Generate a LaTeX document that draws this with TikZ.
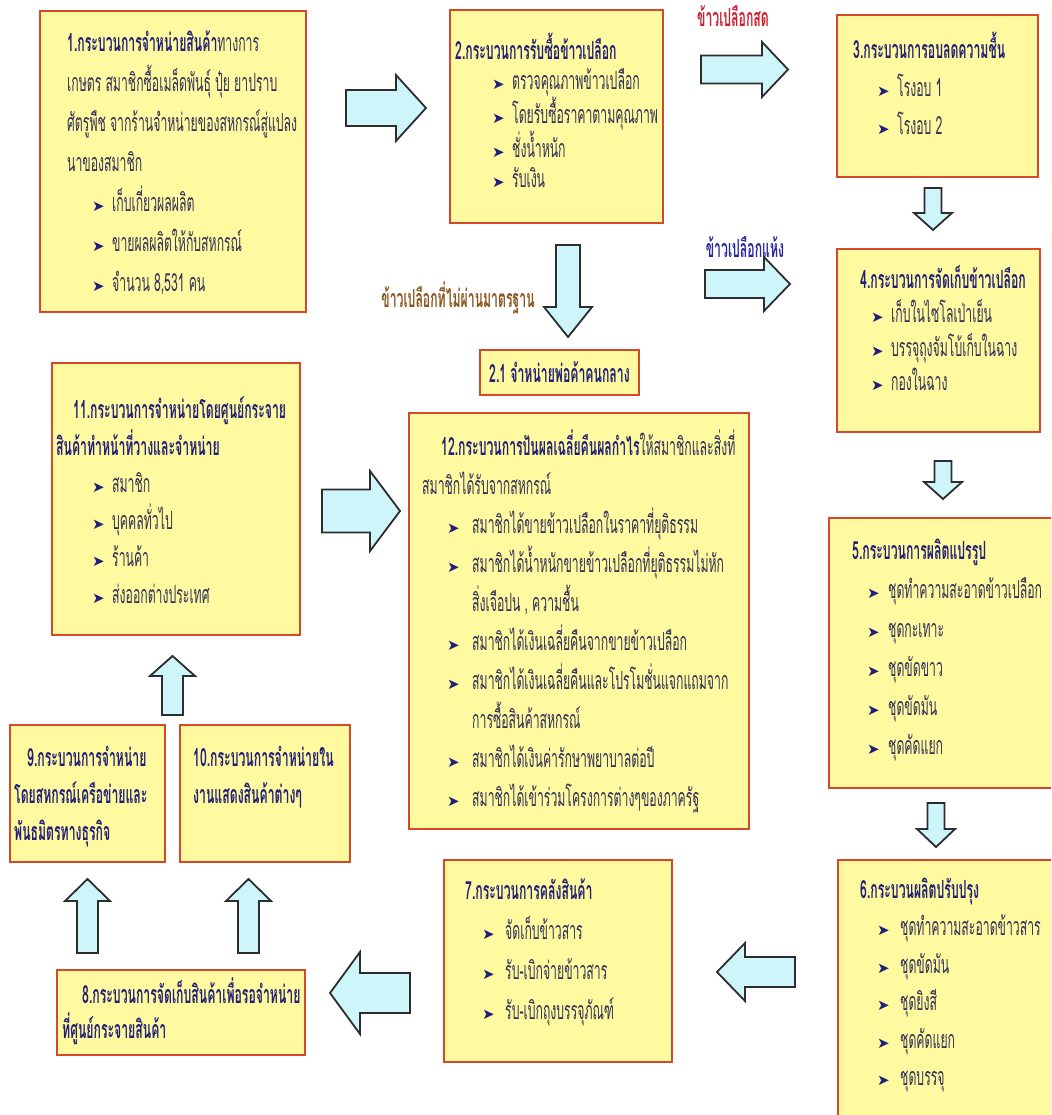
\documentclass[tikz,border=0pt]{standalone}
\usepackage{fontspec}
\newfontfamily\thai[Script=Thai,FakeStretch=0.49]{Loma}
\newfontfamily\dejavu{DejaVu Sans}
\usetikzlibrary{fit}
\definecolor{boxfill}{RGB}{255,249,160}
\definecolor{boxline}{RGB}{214,72,42}
\definecolor{navy}{RGB}{32,32,120}
\definecolor{bodytxt}{RGB}{50,50,88}
\definecolor{arrfill}{RGB}{206,245,250}
\definecolor{arrline}{RGB}{45,45,45}
\definecolor{lblred}{RGB}{205,30,45}
\definecolor{lblblue}{RGB}{40,40,160}
\definecolor{lblbrown}{RGB}{140,85,30}
\tikzset{
  procbox/.style={draw=boxline, line width=2.4pt, fill=boxfill, inner sep=0pt},
  boxtext/.style={anchor=north west, inner sep=0pt, align=left, text=bodytxt,
    font={\thai\fontsize{25}{#1}\selectfont}},
  lbl/.style={inner sep=0pt, font={\thai\bfseries\fontsize{25}{25}\selectfont}},
  barrow/.style={draw=arrline, line width=1.8pt, fill=arrfill, line join=miter},
}
\newcommand\st{\rule{0pt}{28pt}}
\newcommand\T[1]{{\bfseries\color{navy}#1}}
\newcommand\bul[2]{\hspace*{#1pt}\makebox[#2pt][l]{\dejavu\fontsize{15}{15}\selectfont\color{navy}➤}}
% block arrow: cx, cy, angle, length, shaft width, head width, head length
\newcommand\barr[7]{\draw[barrow,shift={(#1,#2)},rotate=#3]
  (-#4/2,-#5/2) -- ({#4/2-#7},-#5/2) -- ({#4/2-#7},-#6/2) -- (#4/2,0)
  -- ({#4/2-#7},#6/2) -- ({#4/2-#7},#5/2) -- (-#4/2,#5/2) -- cycle;}
\begin{document}
\begin{tikzpicture}[x=1pt,y=-1pt]
\useasboundingbox (0,0) rectangle (1051,1115);
\clip (0,0) rectangle (1051,1115);
\fill[white] (0,0) rectangle (1051,1115);

% boxes
\node[procbox, fit={(40,11) (306,312)}] (b1) {};
\node[procbox, fit={(450,10) (663,223)}] (b2) {};
\node[procbox, fit={(837,15) (1038,177)}] (b3) {};
\node[procbox, fit={(837,249) (1040,432)}] (b4) {};
\node[procbox, fit={(480,350) (639,395)}] (b21) {};
\node[procbox, fit={(52,363) (300,635)}] (b11) {};
\node[procbox, fit={(409,413) (749,829)}] (b12) {};
\node[procbox, fit={(829,518) (1070,788)}] (b5) {};
\node[procbox, fit={(838,860) (1070,1140)}] (b6) {};
\node[procbox, fit={(444,860) (672,1062)}] (b7) {};
\node[procbox, fit={(57,970) (305,1055)}] (b8) {};
\node[procbox, fit={(10,725) (165,862)}] (b9) {};
\node[procbox, fit={(180,725) (350,862)}] (b10) {};

% texts
\node[boxtext=40] (t1) at (67,23) {\st\T{1.กระบวนการจำหน่ายสินค้า}ทางการ\\
เกษตร สมาชิกซื้อเมล็ดพันธุ์ ปุ๋ย ยาปราบ\\
ศัตรูพืช จากร้านจำหน่ายของสหกรณ์สู่แปลง\\
นาของสมาชิก\\
\bul{25}{20}เก็บเกี่ยวผลผลิต\\
\bul{25}{20}ขายผลผลิตให้กับสหกรณ์\\
\bul{25}{20}จำนวน 8,531 คน};

\node[boxtext=30] (t2) at (455,31) {\st\T{2.กระบวนการรับซื้อข้าวเปลือก}\\
\bul{37}{20}ตรวจคุณภาพข้าวเปลือก\\
\bul{37}{20}โดยรับซื้อราคาตามคุณภาพ\\
\bul{37}{20}ชั่งน้ำหนัก\\
\bul{37}{20}รับเงิน};

\node[boxtext=38] (t3) at (853,30) {\st\T{3.กระบวนการอบลดความชื้น}\\
\bul{24}{20}โรงอบ 1\\
\bul{24}{20}โรงอบ 2};

\node[boxtext=34] (t4) at (860,260) {\st\T{4.กระบวนการจัดเก็บข้าวเปลือก}\\
\bul{11}{20}เก็บในไซโลเป่าเย็น\\
\bul{11}{20}บรรจุถุงจัมโบ้เก็บในฉาง\\
\bul{11}{20}กองในฉาง};

\node[lbl, text=navy] (t21) at (b21.center) {2.1 จำหน่ายพ่อค้าคนกลาง};

\node[boxtext=37] (t11) at (56,390) {\st\T{\hspace*{17pt}11.กระบวนการจำหน่ายโดยศูนย์กระจาย}\\
\T{สินค้าทำหน้าที่วางและจำหน่าย}\\
\bul{36}{20}สมาชิก\\
\bul{36}{20}บุคคลทั่วไป\\
\bul{36}{20}ร้านค้า\\
\bul{36}{20}ส่งออกต่างประเทศ};

\node[boxtext=39] (t12) at (422,427) {\st\hspace*{19pt}\T{12.กระบวนการปันผลเฉลี่ยคืนผลกำไร}ให้สมาชิกและสิ่งที่\\
สมาชิกได้รับจากสหกรณ์\\
\bul{25}{25}สมาชิกได้ขายข้าวเปลือกในราคาที่ยุติธรรม\\
\bul{25}{25}สมาชิกได้น้ำหนักขายข้าวเปลือกที่ยุติธรรมไม่หัก\\
\hspace*{50pt}สิ่งเจือปน , ความชื้น\\
\bul{25}{25}สมาชิกได้เงินเฉลี่ยคืนจากขายข้าวเปลือก\\
\bul{25}{25}สมาชิกได้เงินเฉลี่ยคืนและโปรโมชั่นแจกแถมจาก\\
\hspace*{50pt}การซื้อสินค้าสหกรณ์\\
\bul{25}{25}สมาชิกได้เงินค่ารักษาพยาบาลต่อปี\\
\bul{25}{25}สมาชิกได้เข้าร่วมโครงการต่างๆของภาครัฐ};

\node[boxtext=39] (t5) at (852,531) {\st\T{5.กระบวนการผลิตแปรรูป}\\
\bul{15}{21}ชุดทำความสะอาดข้าวเปลือก\\
\bul{15}{21}ชุดกะเทาะ\\
\bul{15}{21}ชุดขัดขาว\\
\bul{15}{21}ชุดขัดมัน\\
\bul{15}{21}ชุดคัดแยก};

\node[boxtext=37.5] (t6) at (860,870) {\st\T{6.กระบวนผลิตปรับปรุง}\\
\bul{17}{23}ชุดทำความสะอาดข้าวสาร\\
\bul{17}{23}ชุดขัดมัน\\
\bul{17}{23}ชุดยิงสี\\
\bul{17}{23}ชุดคัดแยก\\
\bul{17}{23}ชุดบรรจุ};

\node[boxtext=40] (t7) at (465,871) {\st\T{7.กระบวนการคลังสินค้า}\\
\bul{17}{23}จัดเก็บข้าวสาร\\
\bul{17}{23}รับ-เบิกจ่ายข้าวสาร\\
\bul{17}{23}รับ-เบิกถุงบรรจุภัณฑ์};

\node[boxtext=35] (t8) at (62,975) {\st\T{\hspace*{20pt}8.กระบวนการจัดเก็บสินค้าเพื่อรอจำหน่าย}\\
\T{ที่ศูนย์กระจายสินค้า}};

\node[boxtext=37] (t9) at (14,738) {\st\T{\hspace*{13pt}9.กระบวนการจำหน่าย}\\
\T{โดยสหกรณ์เครือข่ายและ}\\
\T{พันธมิตรทางธุรกิจ}};

\node[boxtext=37] (t10) at (193,738) {\st\T{10.กระบวนการจำหน่ายใน}\\
\T{งานแสดงสินค้าต่างๆ}};

% labels
\node[lbl, text=lblred] (lfresh) at (733,16) {ข้าวเปลือกสด};
\node[lbl, text=lblblue] (ldry) at (745,247) {ข้าวเปลือกแห้ง};
\node[lbl, text=lblbrown] (lreject) at (458,298) {ข้าวเปลือกที่ไม่ผ่านมาตรฐาน};

% block arrows
\barr{386}{108}{0}{80}{36}{66}{30}
\barr{744.5}{69.5}{0}{87}{28}{55}{26}
\barr{747.5}{284}{0}{85}{28}{54}{26}
\barr{568}{291}{270}{92}{24}{48}{30}
\barr{933}{209}{270}{42}{17}{38}{17}
\barr{943}{480}{270}{38}{17}{38}{17}
\barr{936}{825}{270}{44}{17}{38}{18}
\barr{756}{972}{180}{78}{30}{58}{28}
\barr{370}{993}{180}{80}{40}{82}{30}
\barr{87.5}{916}{90}{74}{21}{45}{22}
\barr{248.5}{916}{90}{74}{21}{45}{22}
\barr{172.5}{685.5}{90}{59}{21}{45}{20}
\barr{361}{511}{0}{78}{43}{80}{30}
\end{tikzpicture}
\end{document}
